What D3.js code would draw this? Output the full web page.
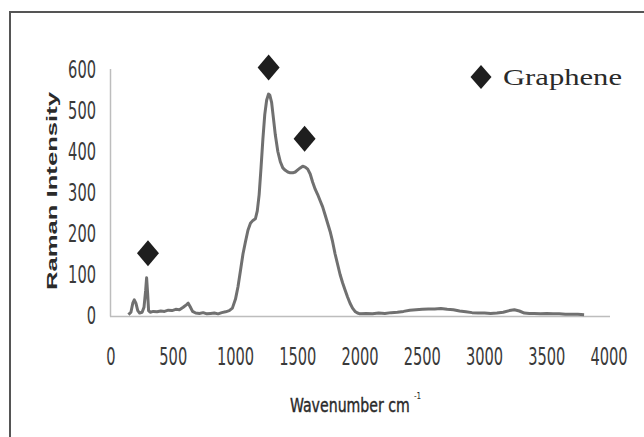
<!DOCTYPE html>
<html>
<head>
<meta charset="utf-8">
<script src="https://cdn.jsdelivr.net/npm/d3@7"></script>
<style>
  html, body { margin: 0; padding: 0; background: #fff; }
  svg { display: block; }
</style>
</head>
<body>
<svg id="chart" width="644" height="437"></svg>
<script>
// ---- data ----
const waveNumbers = [140,160,175,187,200,215,230,250,265,278,286,294,302,315,340,370,400,430,460,490,520,550,580,605,620,635,655,680,710,740,770,800,830,860,890,920,950,975,1000,1020,1040,1060,1080,1100,1120,1140,1160,1175,1190,1205,1220,1235,1250,1265,1275,1290,1305,1320,1340,1360,1380,1400,1420,1440,1460,1480,1500,1520,1540,1560,1580,1600,1620,1640,1660,1680,1700,1720,1740,1760,1780,1800,1820,1840,1860,1880,1900,1920,1940,1960,1980,2000,2050,2100,2150,2200,2250,2300,2350,2400,2450,2500,2550,2600,2650,2700,2750,2800,2850,2900,2950,3000,3050,3100,3150,3200,3240,3280,3320,3360,3400,3450,3500,3550,3600,3650,3700,3750,3800];
const intensities = [2,8,30,38,30,12,6,8,20,60,92,55,12,8,10,9,11,10,13,12,15,14,20,26,30,22,10,6,5,7,4,5,6,4,7,9,12,18,40,70,110,150,180,208,225,232,236,255,295,360,430,490,525,540,538,520,480,440,400,375,360,354,350,348,348,350,355,360,364,362,357,345,325,308,295,280,265,245,225,205,180,150,125,100,80,62,45,30,18,10,6,4,5,4,6,5,7,8,10,13,14,15,16,16,17,15,14,11,9,7,6,6,5,6,8,12,14,11,6,5,5,4,5,4,4,3,3,3,2];
const markerX = [297, 1266, 1555];
const markerY = [152, 605, 431];
const xTicks = [0,500,1000,1500,2000,2500,3000,3500,4000];
const yTicks = [0,100,200,300,400,500,600];
const legendLabel = "Graphene";
const xTitle = "Wavenumber cm";
const xTitleSup = "-1";
const yTitle = "Raman Intensity";

// ---- drawing ----
const svg = d3.select("#chart");
const x = d3.scaleLinear().domain([0, 4000]).range([111, 609]);
const y = d3.scaleLinear().domain([0, 600]).range([315.5, 69.5]);

// outer frame
svg.append("rect").attr("x", 10).attr("y", 12).attr("width", 700).attr("height", 500)
  .attr("fill", "none").attr("stroke", "#555").attr("stroke-width", 2);

// axes lines
svg.append("line").attr("x1", 110.5).attr("x2", 110.5).attr("y1", 69).attr("y2", 316.5)
  .attr("stroke", "#bdbdbd").attr("stroke-width", 1.5);
svg.append("line").attr("x1", 110).attr("x2", 610).attr("y1", 316.5).attr("y2", 316.5)
  .attr("stroke", "#bdbdbd").attr("stroke-width", 1.5);

const narrow = "'Liberation Sans Narrow', 'DejaVu Sans Condensed', 'Liberation Sans', sans-serif";

// y tick labels
svg.append("g").selectAll("text").data(yTicks).join("text")
  .attr("x", 96).attr("y", d => y(d))
  .attr("dy", "0.36em")
  .attr("text-anchor", "end")
  .attr("font-family", narrow).attr("font-size", 24)
  .attr("fill", "#3a3a3a")
  .attr("textLength", d => String(d).length * 9.3)
  .attr("lengthAdjust", "spacingAndGlyphs")
  .text(d => d);

// x tick labels
svg.append("g").selectAll("text").data(xTicks).join("text")
  .attr("x", d => x(d)).attr("y", 356)
  .attr("dy", "0.36em")
  .attr("text-anchor", "middle")
  .attr("font-family", narrow).attr("font-size", 24)
  .attr("fill", "#3a3a3a")
  .attr("textLength", d => String(d).length * 9.3)
  .attr("lengthAdjust", "spacingAndGlyphs")
  .text(d => d);

// axis titles
svg.append("text")
  .attr("transform", "translate(57,191) rotate(-90)")
  .attr("text-anchor", "middle")
  .attr("font-family", "'Liberation Sans', Arial, sans-serif")
  .attr("font-weight", "bold").attr("font-size", 15)
  .attr("fill", "#2a2a2a")
  .attr("textLength", 198).attr("lengthAdjust", "spacingAndGlyphs")
  .text(yTitle);

const xtMain = svg.append("text")
  .attr("x", 0).attr("y", 0)
  .attr("font-family", narrow).attr("font-size", 20)
  .attr("fill", "#2a2a2a").attr("stroke", "#2a2a2a").attr("stroke-width", 0.4)
  .text(xTitle);
const wNat = xtMain.node().getComputedTextLength();
const sx = 120 / wNat;
xtMain.attr("transform", `translate(290,412) scale(${sx},1)`);
svg.append("text")
  .attr("x", 414).attr("y", 399)
  .attr("font-family", narrow).attr("font-size", 8)
  .attr("fill", "#2a2a2a")
  .text(xTitleSup);

// spectrum line
const spectrum = waveNumbers.map((w, i) => [w, intensities[i]]);
svg.append("path").datum(spectrum)
  .attr("fill", "none").attr("stroke", "#707070").attr("stroke-width", 3)
  .attr("stroke-linejoin", "round")
  .attr("d", d3.line().x(d => x(d[0])).y(d => y(d[1])));

// diamond markers
const diamond = (cx, cy, w, h) => `M${cx},${cy - h/2}L${cx + w/2},${cy}L${cx},${cy + h/2}L${cx - w/2},${cy}Z`;
svg.append("g").selectAll("path").data(markerX.map((v, i) => [v, markerY[i]])).join("path")
  .attr("d", d => diamond(x(d[0]), y(d[1]), 22, 26))
  .attr("fill", "#1e1e1e");

// legend
svg.append("path").attr("d", diamond(481, 77, 21, 24)).attr("fill", "#1e1e1e");
svg.append("text")
  .attr("x", 503).attr("y", 85)
  .attr("font-family", "'Liberation Serif', 'Times New Roman', serif")
  .attr("font-size", 24).attr("fill", "#2a2a2a")
  .attr("textLength", 119).attr("lengthAdjust", "spacingAndGlyphs")
  .text(legendLabel);
</script>
</body>
</html>
